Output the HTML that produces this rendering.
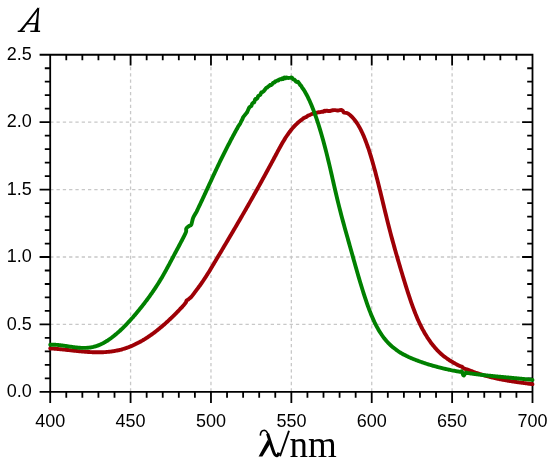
<!DOCTYPE html>
<html><head><meta charset="utf-8"><style>
html,body{margin:0;padding:0;background:#fff;width:550px;height:462px;overflow:hidden}
svg{display:block}
svg{will-change:transform}
.t{font-family:"Liberation Sans",sans-serif;font-size:18px;fill:#000}
.ax{font-family:"Liberation Serif",serif;font-size:36px;fill:#000}
</style></head><body>
<svg width="550" height="462" viewBox="0 0 550 462">
<rect width="550" height="462" fill="#fff"/>
<path d="M130.58,54.75V391.85 M210.97,54.75V391.85 M291.35,54.75V391.85 M371.73,54.75V391.85 M452.12,54.75V391.85" stroke="#c8c8c8" stroke-width="1.3" stroke-dasharray="3.3,3.0" stroke-dashoffset="0.5" fill="none"/>
<path d="M50.20,324.43H532.50 M50.20,257.01H532.50 M50.20,189.59H532.50 M50.20,122.17H532.50" stroke="#c8c8c8" stroke-width="1.3" stroke-dasharray="3.3,3.0" fill="none"/>
<path d="M50.20,54.75H532.50V391.85H50.20Z M50.20,391.85h-10.6 M532.50,391.85h-10.4 M50.20,378.37h-5.4 M532.50,378.37h-5.3 M50.20,364.88h-5.4 M532.50,364.88h-5.3 M50.20,351.40h-5.4 M532.50,351.40h-5.3 M50.20,337.91h-5.4 M532.50,337.91h-5.3 M50.20,324.43h-10.6 M532.50,324.43h-10.4 M50.20,310.95h-5.4 M532.50,310.95h-5.3 M50.20,297.46h-5.4 M532.50,297.46h-5.3 M50.20,283.98h-5.4 M532.50,283.98h-5.3 M50.20,270.49h-5.4 M532.50,270.49h-5.3 M50.20,257.01h-10.6 M532.50,257.01h-10.4 M50.20,243.53h-5.4 M532.50,243.53h-5.3 M50.20,230.04h-5.4 M532.50,230.04h-5.3 M50.20,216.56h-5.4 M532.50,216.56h-5.3 M50.20,203.07h-5.4 M532.50,203.07h-5.3 M50.20,189.59h-10.6 M532.50,189.59h-10.4 M50.20,176.11h-5.4 M532.50,176.11h-5.3 M50.20,162.62h-5.4 M532.50,162.62h-5.3 M50.20,149.14h-5.4 M532.50,149.14h-5.3 M50.20,135.65h-5.4 M532.50,135.65h-5.3 M50.20,122.17h-10.6 M532.50,122.17h-10.4 M50.20,108.69h-5.4 M532.50,108.69h-5.3 M50.20,95.20h-5.4 M532.50,95.20h-5.3 M50.20,81.72h-5.4 M532.50,81.72h-5.3 M50.20,68.23h-5.4 M532.50,68.23h-5.3 M50.20,54.75h-10.6 M532.50,54.75h-10.4 M50.20,391.85v11.1 M50.20,54.75v10.7 M66.28,391.85v6.0 M66.28,54.75v5.5 M82.35,391.85v6.0 M82.35,54.75v5.5 M98.43,391.85v6.0 M98.43,54.75v5.5 M114.51,391.85v6.0 M114.51,54.75v5.5 M130.58,391.85v11.1 M130.58,54.75v10.7 M146.66,391.85v6.0 M146.66,54.75v5.5 M162.74,391.85v6.0 M162.74,54.75v5.5 M178.81,391.85v6.0 M178.81,54.75v5.5 M194.89,391.85v6.0 M194.89,54.75v5.5 M210.97,391.85v11.1 M210.97,54.75v10.7 M227.04,391.85v6.0 M227.04,54.75v5.5 M243.12,391.85v6.0 M243.12,54.75v5.5 M259.20,391.85v6.0 M259.20,54.75v5.5 M275.27,391.85v6.0 M275.27,54.75v5.5 M291.35,391.85v11.1 M291.35,54.75v10.7 M307.43,391.85v6.0 M307.43,54.75v5.5 M323.50,391.85v6.0 M323.50,54.75v5.5 M339.58,391.85v6.0 M339.58,54.75v5.5 M355.66,391.85v6.0 M355.66,54.75v5.5 M371.73,391.85v11.1 M371.73,54.75v10.7 M387.81,391.85v6.0 M387.81,54.75v5.5 M403.89,391.85v6.0 M403.89,54.75v5.5 M419.96,391.85v6.0 M419.96,54.75v5.5 M436.04,391.85v6.0 M436.04,54.75v5.5 M452.12,391.85v11.1 M452.12,54.75v10.7 M468.19,391.85v6.0 M468.19,54.75v5.5 M484.27,391.85v6.0 M484.27,54.75v5.5 M500.35,391.85v6.0 M500.35,54.75v5.5 M516.42,391.85v6.0 M516.42,54.75v5.5 M532.50,391.85v11.1 M532.50,54.75v10.7" stroke="#000" stroke-width="1.8" fill="none" stroke-linecap="butt"/>
<path d="M50.20,348.46 C50.37,348.47 50.87,348.50 51.20,348.52 C51.53,348.53 51.87,348.55 52.20,348.58 C52.53,348.60 52.87,348.62 53.20,348.64 C53.53,348.66 53.87,348.69 54.20,348.71 C54.53,348.73 54.87,348.76 55.20,348.78 C55.53,348.81 55.87,348.84 56.20,348.86 C56.53,348.89 56.87,348.92 57.20,348.95 C57.53,348.97 57.87,349.00 58.20,349.03 C58.53,349.06 58.87,349.09 59.20,349.12 C59.53,349.15 59.87,349.18 60.20,349.22 C60.53,349.25 60.87,349.28 61.20,349.31 C61.53,349.34 61.87,349.38 62.20,349.41 C62.53,349.44 62.87,349.48 63.20,349.51 C63.53,349.55 63.87,349.58 64.20,349.62 C64.53,349.65 64.87,349.69 65.20,349.72 C65.53,349.76 65.87,349.79 66.20,349.83 C66.53,349.86 66.87,349.90 67.20,349.94 C67.53,349.97 67.87,350.01 68.20,350.04 C68.53,350.08 68.87,350.12 69.20,350.15 C69.53,350.19 69.87,350.23 70.20,350.26 C70.53,350.30 70.87,350.34 71.20,350.37 C71.53,350.41 71.87,350.45 72.20,350.48 C72.53,350.52 72.87,350.56 73.20,350.59 C73.53,350.63 73.87,350.67 74.20,350.70 C74.53,350.74 74.87,350.77 75.20,350.81 C75.53,350.84 75.87,350.88 76.20,350.91 C76.53,350.95 76.87,350.98 77.20,351.02 C77.53,351.05 77.87,351.09 78.20,351.12 C78.53,351.16 78.87,351.19 79.20,351.22 C79.53,351.25 79.87,351.29 80.20,351.32 C80.53,351.35 80.87,351.38 81.20,351.41 C81.53,351.44 81.87,351.48 82.20,351.51 C82.53,351.54 82.87,351.56 83.20,351.59 C83.53,351.62 83.87,351.65 84.20,351.68 C84.53,351.71 84.87,351.73 85.20,351.76 C85.53,351.78 85.87,351.81 86.20,351.83 C86.53,351.86 86.87,351.88 87.20,351.91 C87.53,351.93 87.87,351.95 88.20,351.97 C88.53,351.99 88.87,352.01 89.20,352.03 C89.53,352.05 89.87,352.07 90.20,352.09 C90.53,352.11 90.87,352.12 91.20,352.14 C91.53,352.16 91.87,352.17 92.20,352.19 C92.53,352.20 92.87,352.21 93.20,352.22 C93.53,352.23 93.87,352.25 94.20,352.25 C94.53,352.26 94.87,352.27 95.20,352.28 C95.53,352.29 95.87,352.29 96.20,352.30 C96.53,352.30 96.87,352.30 97.20,352.31 C97.53,352.31 97.87,352.31 98.20,352.31 C98.53,352.31 98.87,352.31 99.20,352.30 C99.53,352.30 99.87,352.29 100.20,352.29 C100.53,352.28 100.87,352.28 101.20,352.27 C101.53,352.26 101.87,352.25 102.20,352.23 C102.53,352.22 102.87,352.21 103.20,352.19 C103.53,352.18 103.87,352.16 104.20,352.14 C104.53,352.12 104.87,352.10 105.20,352.08 C105.53,352.06 105.87,352.04 106.20,352.01 C106.53,351.99 106.87,351.96 107.20,351.93 C107.53,351.90 107.87,351.87 108.20,351.84 C108.53,351.81 108.87,351.77 109.20,351.74 C109.53,351.70 109.87,351.66 110.20,351.63 C110.53,351.59 110.87,351.54 111.20,351.50 C111.53,351.46 111.87,351.41 112.20,351.36 C112.53,351.32 112.87,351.27 113.20,351.21 C113.53,351.16 113.87,351.11 114.20,351.05 C114.53,351.00 114.87,350.94 115.20,350.88 C115.53,350.82 115.87,350.76 116.20,350.69 C116.53,350.63 116.87,350.56 117.20,350.49 C117.53,350.42 117.87,350.35 118.20,350.28 C118.53,350.21 118.87,350.13 119.20,350.05 C119.53,349.97 119.87,349.89 120.20,349.81 C120.53,349.73 120.87,349.64 121.20,349.55 C121.53,349.47 121.87,349.38 122.20,349.28 C122.53,349.19 122.87,349.10 123.20,349.00 C123.53,348.90 123.87,348.80 124.20,348.70 C124.53,348.59 124.87,348.49 125.20,348.38 C125.53,348.27 125.87,348.16 126.20,348.05 C126.53,347.93 126.87,347.82 127.20,347.70 C127.53,347.58 127.87,347.46 128.20,347.34 C128.53,347.21 128.87,347.08 129.20,346.95 C129.53,346.83 129.87,346.69 130.20,346.56 C130.53,346.42 130.87,346.29 131.20,346.15 C131.53,346.01 131.87,345.86 132.20,345.72 C132.53,345.57 132.87,345.43 133.20,345.28 C133.53,345.13 133.87,344.97 134.20,344.82 C134.53,344.66 134.87,344.51 135.20,344.35 C135.53,344.19 135.87,344.02 136.20,343.86 C136.53,343.69 136.87,343.52 137.20,343.35 C137.53,343.18 137.87,343.01 138.20,342.84 C138.53,342.66 138.87,342.48 139.20,342.30 C139.53,342.12 139.87,341.94 140.20,341.75 C140.53,341.57 140.87,341.38 141.20,341.19 C141.53,341.00 141.87,340.81 142.20,340.62 C142.53,340.42 142.87,340.22 143.20,340.02 C143.53,339.82 143.87,339.62 144.20,339.42 C144.53,339.21 144.87,339.01 145.20,338.80 C145.53,338.59 145.87,338.38 146.20,338.16 C146.53,337.95 146.87,337.73 147.20,337.52 C147.53,337.30 147.87,337.08 148.20,336.85 C148.53,336.63 148.87,336.41 149.20,336.18 C149.53,335.95 149.87,335.72 150.20,335.49 C150.53,335.26 150.87,335.02 151.20,334.79 C151.53,334.55 151.87,334.31 152.20,334.07 C152.53,333.83 152.87,333.58 153.20,333.34 C153.53,333.09 153.87,332.85 154.20,332.60 C154.53,332.35 154.87,332.09 155.20,331.84 C155.53,331.58 155.87,331.33 156.20,331.07 C156.53,330.81 156.87,330.55 157.20,330.29 C157.53,330.02 157.87,329.76 158.20,329.49 C158.53,329.22 158.87,328.95 159.20,328.68 C159.53,328.41 159.87,328.14 160.20,327.86 C160.53,327.59 160.87,327.31 161.20,327.03 C161.53,326.75 161.87,326.47 162.20,326.18 C162.53,325.90 162.87,325.61 163.20,325.33 C163.53,325.04 163.87,324.75 164.20,324.45 C164.53,324.16 164.87,323.87 165.20,323.57 C165.53,323.28 165.87,322.98 166.20,322.68 C166.53,322.38 166.87,322.07 167.20,321.77 C167.53,321.47 167.87,321.16 168.20,320.85 C168.53,320.54 168.87,320.23 169.20,319.92 C169.53,319.61 169.87,319.30 170.20,318.98 C170.53,318.66 170.87,318.35 171.20,318.03 C171.53,317.71 171.87,317.39 172.20,317.06 C172.53,316.74 172.87,316.41 173.20,316.09 C173.53,315.76 173.87,315.43 174.20,315.10 C174.53,314.77 174.87,314.44 175.20,314.10 C175.53,313.77 175.87,313.43 176.20,313.09 C176.53,312.75 176.87,312.41 177.20,312.07 C177.53,311.73 177.87,311.39 178.20,311.04 C178.53,310.69 178.87,310.35 179.20,310.00 C179.53,309.65 179.87,309.30 180.20,308.95 C180.53,308.59 180.87,308.24 181.20,307.88 C181.53,307.53 181.87,307.17 182.20,306.81 C182.53,306.45 182.87,306.09 183.20,305.73 C183.53,305.36 183.73,305.22 184.20,304.63 C184.67,304.04 185.60,302.87 186.00,302.20 C186.40,301.53 186.17,301.10 186.60,300.60 C187.03,300.10 187.82,299.82 188.60,299.20 C189.38,298.58 190.42,297.83 191.30,296.90 C192.18,295.97 192.92,294.90 193.90,293.60 C194.88,292.30 196.48,290.08 197.20,289.11 C197.92,288.14 197.87,288.23 198.20,287.79 C198.53,287.34 198.87,286.89 199.20,286.43 C199.53,285.98 199.87,285.52 200.20,285.05 C200.53,284.59 200.87,284.12 201.20,283.65 C201.53,283.18 201.87,282.70 202.20,282.22 C202.53,281.74 202.87,281.25 203.20,280.76 C203.53,280.27 203.87,279.77 204.20,279.27 C204.53,278.77 204.87,278.26 205.20,277.75 C205.53,277.24 205.87,276.72 206.20,276.20 C206.53,275.68 206.87,275.15 207.20,274.62 C207.53,274.09 207.87,273.55 208.20,273.02 C208.53,272.48 208.87,271.94 209.20,271.39 C209.53,270.85 209.87,270.30 210.20,269.75 C210.53,269.20 210.87,268.65 211.20,268.10 C211.53,267.54 211.87,266.99 212.20,266.43 C212.53,265.87 212.87,265.32 213.20,264.76 C213.53,264.20 213.87,263.64 214.20,263.08 C214.53,262.51 214.87,261.95 215.20,261.39 C215.53,260.83 215.87,260.27 216.20,259.71 C216.53,259.15 216.87,258.59 217.20,258.03 C217.53,257.47 217.87,256.91 218.20,256.35 C218.53,255.78 218.87,255.22 219.20,254.66 C219.53,254.10 219.87,253.54 220.20,252.98 C220.53,252.42 220.87,251.86 221.20,251.30 C221.53,250.74 221.87,250.18 222.20,249.61 C222.53,249.05 222.87,248.49 223.20,247.93 C223.53,247.37 223.87,246.81 224.20,246.25 C224.53,245.68 224.87,245.12 225.20,244.56 C225.53,244.00 225.87,243.44 226.20,242.87 C226.53,242.31 226.87,241.75 227.20,241.19 C227.53,240.62 227.87,240.06 228.20,239.50 C228.53,238.93 228.87,238.37 229.20,237.81 C229.53,237.24 229.87,236.68 230.20,236.11 C230.53,235.55 230.87,234.98 231.20,234.42 C231.53,233.85 231.87,233.29 232.20,232.72 C232.53,232.16 232.87,231.59 233.20,231.02 C233.53,230.46 233.87,229.89 234.20,229.32 C234.53,228.75 234.87,228.19 235.20,227.62 C235.53,227.05 235.87,226.48 236.20,225.91 C236.53,225.34 236.87,224.77 237.20,224.20 C237.53,223.63 237.87,223.06 238.20,222.49 C238.53,221.92 238.87,221.35 239.20,220.77 C239.53,220.20 239.87,219.63 240.20,219.06 C240.53,218.48 240.87,217.91 241.20,217.33 C241.53,216.76 241.87,216.18 242.20,215.61 C242.53,215.03 242.87,214.45 243.20,213.88 C243.53,213.30 243.87,212.72 244.20,212.14 C244.53,211.57 244.87,210.99 245.20,210.41 C245.53,209.83 245.87,209.25 246.20,208.67 C246.53,208.08 246.87,207.50 247.20,206.92 C247.53,206.34 247.87,205.75 248.20,205.17 C248.53,204.58 248.87,204.00 249.20,203.41 C249.53,202.83 249.87,202.24 250.20,201.65 C250.53,201.07 250.87,200.48 251.20,199.89 C251.53,199.30 251.87,198.71 252.20,198.12 C252.53,197.53 252.87,196.93 253.20,196.34 C253.53,195.75 253.87,195.16 254.20,194.56 C254.53,193.97 254.87,193.37 255.20,192.77 C255.53,192.18 255.87,191.58 256.20,190.98 C256.53,190.38 256.87,189.78 257.20,189.18 C257.53,188.58 257.87,187.98 258.20,187.38 C258.53,186.78 258.87,186.18 259.20,185.57 C259.53,184.97 259.87,184.37 260.20,183.76 C260.53,183.16 260.87,182.55 261.20,181.95 C261.53,181.34 261.87,180.73 262.20,180.12 C262.53,179.52 262.87,178.91 263.20,178.30 C263.53,177.69 263.87,177.08 264.20,176.47 C264.53,175.86 264.87,175.25 265.20,174.63 C265.53,174.02 265.87,173.41 266.20,172.80 C266.53,172.18 266.87,171.57 267.20,170.95 C267.53,170.34 267.87,169.72 268.20,169.11 C268.53,168.49 268.87,167.88 269.20,167.26 C269.53,166.64 269.87,166.03 270.20,165.41 C270.53,164.79 270.87,164.17 271.20,163.55 C271.53,162.93 271.87,162.32 272.20,161.70 C272.53,161.08 272.87,160.46 273.20,159.84 C273.53,159.21 273.87,158.59 274.20,157.97 C274.53,157.35 274.87,156.73 275.20,156.11 C275.53,155.48 275.87,154.86 276.20,154.24 C276.53,153.62 276.87,153.00 277.20,152.38 C277.53,151.76 277.87,151.14 278.20,150.52 C278.53,149.91 278.87,149.29 279.20,148.68 C279.53,148.07 279.87,147.47 280.20,146.86 C280.53,146.26 280.87,145.67 281.20,145.07 C281.53,144.48 281.87,143.90 282.20,143.32 C282.53,142.74 282.87,142.16 283.20,141.60 C283.53,141.03 283.87,140.48 284.20,139.93 C284.53,139.38 284.87,138.84 285.20,138.31 C285.53,137.78 285.87,137.25 286.20,136.74 C286.53,136.23 286.87,135.73 287.20,135.24 C287.53,134.75 287.87,134.27 288.20,133.80 C288.53,133.33 288.87,132.87 289.20,132.42 C289.53,131.97 289.87,131.53 290.20,131.10 C290.53,130.67 290.87,130.25 291.20,129.84 C291.53,129.43 291.87,129.03 292.20,128.63 C292.53,128.24 292.87,127.85 293.20,127.48 C293.53,127.10 293.87,126.74 294.20,126.38 C294.53,126.02 294.87,125.67 295.20,125.33 C295.53,124.99 295.87,124.66 296.20,124.34 C296.53,124.01 296.87,123.70 297.20,123.39 C297.53,123.08 297.87,122.78 298.20,122.49 C298.53,122.19 298.87,121.91 299.20,121.63 C299.53,121.36 299.87,121.10 300.20,120.83 C300.53,120.57 300.87,120.29 301.20,120.05 C301.53,119.82 301.87,119.69 302.20,119.43 C302.53,119.17 302.87,118.75 303.20,118.49 C303.53,118.24 303.87,118.09 304.20,117.90 C304.53,117.72 304.87,117.52 305.20,117.38 C305.53,117.23 305.87,117.21 306.20,117.03 C306.53,116.85 306.87,116.54 307.20,116.29 C307.53,116.04 307.87,115.69 308.20,115.51 C308.53,115.33 308.87,115.33 309.20,115.21 C309.53,115.08 309.87,114.90 310.20,114.76 C310.53,114.61 310.87,114.48 311.20,114.33 C311.53,114.18 311.87,113.95 312.20,113.84 C312.53,113.73 312.87,113.76 313.20,113.69 C313.53,113.61 313.87,113.44 314.20,113.38 C314.53,113.32 314.87,113.39 315.20,113.34 C315.53,113.29 315.87,113.20 316.20,113.07 C316.53,112.95 316.87,112.72 317.20,112.59 C317.53,112.46 317.87,112.34 318.20,112.30 C318.53,112.25 318.87,112.34 319.20,112.32 C319.53,112.31 319.87,112.28 320.20,112.20 C320.53,112.12 320.87,111.91 321.20,111.83 C321.53,111.76 321.87,111.77 322.20,111.75 C322.53,111.73 322.87,111.85 323.20,111.69 C323.53,111.53 323.87,110.87 324.20,110.81 C324.53,110.75 324.87,111.34 325.20,111.32 C325.53,111.31 325.87,110.80 326.20,110.70 C326.53,110.60 326.90,110.66 327.20,110.72 C327.50,110.78 327.53,111.00 328.00,111.04 C328.47,111.08 329.23,111.11 330.00,110.97 C330.77,110.84 331.73,110.36 332.60,110.22 C333.47,110.08 334.27,110.08 335.20,110.13 C336.13,110.17 337.18,110.51 338.20,110.48 C339.22,110.46 340.52,109.92 341.30,109.99 C342.08,110.06 342.48,110.48 342.90,110.90 C343.32,111.32 343.08,112.14 343.80,112.50 C344.52,112.86 346.47,112.84 347.20,113.04 C347.93,113.24 347.87,113.46 348.20,113.69 C348.53,113.92 348.87,114.16 349.20,114.42 C349.53,114.68 349.87,114.94 350.20,115.23 C350.53,115.51 350.87,115.81 351.20,116.13 C351.53,116.44 351.87,116.77 352.20,117.11 C352.53,117.46 352.87,117.82 353.20,118.19 C353.53,118.57 353.87,118.96 354.20,119.37 C354.53,119.78 354.87,120.20 355.20,120.65 C355.53,121.09 355.87,121.55 356.20,122.03 C356.53,122.51 356.87,123.00 357.20,123.52 C357.53,124.03 357.87,124.56 358.20,125.12 C358.53,125.67 358.87,126.24 359.20,126.83 C359.53,127.43 359.87,128.04 360.20,128.67 C360.53,129.30 360.87,129.95 361.20,130.63 C361.53,131.30 361.87,132.00 362.20,132.71 C362.53,133.43 362.87,134.17 363.20,134.93 C363.53,135.69 363.87,136.47 364.20,137.27 C364.53,138.07 364.87,138.90 365.20,139.75 C365.53,140.59 365.87,141.46 366.20,142.36 C366.53,143.25 366.87,144.16 367.20,145.10 C367.53,146.04 367.87,147.00 368.20,147.98 C368.53,148.97 368.87,149.97 369.20,151.00 C369.53,152.03 369.87,153.08 370.20,154.15 C370.53,155.22 370.87,156.31 371.20,157.42 C371.53,158.53 371.87,159.66 372.20,160.80 C372.53,161.95 372.87,163.12 373.20,164.30 C373.53,165.48 373.87,166.68 374.20,167.90 C374.53,169.12 374.87,170.35 375.20,171.60 C375.53,172.85 375.87,174.11 376.20,175.39 C376.53,176.66 376.87,177.95 377.20,179.26 C377.53,180.56 377.87,181.88 378.20,183.21 C378.53,184.54 378.87,185.88 379.20,187.23 C379.53,188.58 379.87,189.94 380.20,191.30 C380.53,192.66 380.87,194.04 381.20,195.41 C381.53,196.79 381.87,198.17 382.20,199.55 C382.53,200.93 382.87,202.32 383.20,203.70 C383.53,205.08 383.87,206.47 384.20,207.85 C384.53,209.23 384.87,210.60 385.20,211.97 C385.53,213.35 385.87,214.71 386.20,216.07 C386.53,217.43 386.87,218.78 387.20,220.12 C387.53,221.46 387.87,222.80 388.20,224.12 C388.53,225.43 388.87,226.74 389.20,228.03 C389.53,229.33 389.87,230.61 390.20,231.88 C390.53,233.15 390.87,234.41 391.20,235.66 C391.53,236.91 391.87,238.14 392.20,239.37 C392.53,240.60 392.87,241.82 393.20,243.03 C393.53,244.23 393.87,245.43 394.20,246.63 C394.53,247.82 394.87,249.00 395.20,250.18 C395.53,251.35 395.87,252.52 396.20,253.68 C396.53,254.84 396.87,256.00 397.20,257.15 C397.53,258.30 397.87,259.44 398.20,260.58 C398.53,261.71 398.87,262.85 399.20,263.98 C399.53,265.10 399.87,266.23 400.20,267.35 C400.53,268.47 400.87,269.59 401.20,270.70 C401.53,271.82 401.87,272.93 402.20,274.04 C402.53,275.14 402.87,276.25 403.20,277.35 C403.53,278.45 403.87,279.54 404.20,280.63 C404.53,281.72 404.87,282.81 405.20,283.88 C405.53,284.96 405.87,286.03 406.20,287.10 C406.53,288.16 406.87,289.21 407.20,290.26 C407.53,291.30 407.87,292.34 408.20,293.37 C408.53,294.40 408.87,295.41 409.20,296.42 C409.53,297.43 409.87,298.42 410.20,299.40 C410.53,300.39 410.87,301.36 411.20,302.32 C411.53,303.28 411.87,304.22 412.20,305.15 C412.53,306.08 412.87,307.00 413.20,307.90 C413.53,308.80 413.87,309.69 414.20,310.56 C414.53,311.43 414.87,312.28 415.20,313.12 C415.53,313.96 415.87,314.78 416.20,315.59 C416.53,316.39 416.87,317.18 417.20,317.96 C417.53,318.74 417.87,319.50 418.20,320.24 C418.53,320.99 418.87,321.72 419.20,322.44 C419.53,323.15 419.87,323.86 420.20,324.54 C420.53,325.23 420.87,325.91 421.20,326.57 C421.53,327.23 421.87,327.88 422.20,328.52 C422.53,329.16 422.87,329.78 423.20,330.39 C423.53,331.00 423.87,331.60 424.20,332.19 C424.53,332.78 424.87,333.36 425.20,333.92 C425.53,334.49 425.87,335.04 426.20,335.58 C426.53,336.13 426.87,336.66 427.20,337.18 C427.53,337.70 427.87,338.21 428.20,338.72 C428.53,339.22 428.87,339.71 429.20,340.19 C429.53,340.68 429.87,341.15 430.20,341.61 C430.53,342.08 430.87,342.53 431.20,342.98 C431.53,343.43 431.87,343.86 432.20,344.29 C432.53,344.72 432.87,345.14 433.20,345.55 C433.53,345.96 433.87,346.37 434.20,346.76 C434.53,347.16 434.87,347.54 435.20,347.92 C435.53,348.30 435.87,348.67 436.20,349.04 C436.53,349.40 436.87,349.76 437.20,350.11 C437.53,350.46 437.87,350.80 438.20,351.13 C438.53,351.47 438.87,351.80 439.20,352.12 C439.53,352.44 439.87,352.75 440.20,353.06 C440.53,353.37 440.87,353.67 441.20,353.97 C441.53,354.27 441.87,354.55 442.20,354.84 C442.53,355.12 442.87,355.40 443.20,355.67 C443.53,355.95 443.87,356.21 444.20,356.48 C444.53,356.74 444.87,357.00 445.20,357.25 C445.53,357.50 445.87,357.75 446.20,357.99 C446.53,358.23 446.87,358.47 447.20,358.70 C447.53,358.93 447.87,359.16 448.20,359.39 C448.53,359.61 448.87,359.83 449.20,360.05 C449.53,360.27 449.87,360.48 450.20,360.69 C450.53,360.90 450.87,361.10 451.20,361.31 C451.53,361.51 451.87,361.71 452.20,361.91 C452.53,362.10 452.87,362.29 453.20,362.49 C453.53,362.68 453.87,362.86 454.20,363.05 C454.53,363.24 454.87,363.42 455.20,363.60 C455.53,363.78 455.87,363.96 456.20,364.14 C456.53,364.31 456.87,364.49 457.20,364.66 C457.53,364.84 457.87,365.01 458.20,365.18 C458.53,365.35 458.87,365.52 459.20,365.68 C459.53,365.85 459.73,366.01 460.20,366.18 C460.67,366.35 461.48,366.40 462.00,366.70 C462.52,367.00 462.82,367.63 463.30,368.00 C463.78,368.37 464.08,368.60 464.90,368.90 C465.72,369.20 467.48,369.57 468.20,369.79 C468.92,370.01 468.87,370.07 469.20,370.20 C469.53,370.34 469.87,370.47 470.20,370.60 C470.53,370.73 470.87,370.86 471.20,370.99 C471.53,371.12 471.87,371.25 472.20,371.38 C472.53,371.50 472.87,371.63 473.20,371.75 C473.53,371.88 473.87,372.00 474.20,372.12 C474.53,372.24 474.87,372.36 475.20,372.48 C475.53,372.60 475.87,372.72 476.20,372.83 C476.53,372.95 476.87,373.06 477.20,373.17 C477.53,373.29 477.87,373.40 478.20,373.51 C478.53,373.62 478.87,373.73 479.20,373.84 C479.53,373.95 479.87,374.05 480.20,374.16 C480.53,374.27 480.87,374.37 481.20,374.47 C481.53,374.58 481.87,374.68 482.20,374.78 C482.53,374.88 482.87,374.98 483.20,375.08 C483.53,375.18 483.87,375.28 484.20,375.37 C484.53,375.47 484.87,375.56 485.20,375.66 C485.53,375.75 485.87,375.85 486.20,375.94 C486.53,376.03 486.87,376.12 487.20,376.21 C487.53,376.30 487.87,376.39 488.20,376.48 C488.53,376.57 488.87,376.65 489.20,376.74 C489.53,376.82 489.87,376.91 490.20,376.99 C490.53,377.08 490.87,377.16 491.20,377.24 C491.53,377.32 491.87,377.40 492.20,377.48 C492.53,377.56 492.87,377.64 493.20,377.72 C493.53,377.80 493.87,377.88 494.20,377.95 C494.53,378.03 494.87,378.11 495.20,378.18 C495.53,378.25 495.87,378.33 496.20,378.40 C496.53,378.47 496.87,378.55 497.20,378.62 C497.53,378.69 497.87,378.76 498.20,378.83 C498.53,378.90 498.87,378.97 499.20,379.04 C499.53,379.10 499.87,379.17 500.20,379.24 C500.53,379.30 500.87,379.37 501.20,379.44 C501.53,379.50 501.87,379.57 502.20,379.63 C502.53,379.69 502.87,379.76 503.20,379.82 C503.53,379.88 503.87,379.94 504.20,380.00 C504.53,380.06 504.87,380.12 505.20,380.18 C505.53,380.24 505.87,380.30 506.20,380.36 C506.53,380.42 506.87,380.48 507.20,380.54 C507.53,380.59 507.87,380.65 508.20,380.71 C508.53,380.76 508.87,380.82 509.20,380.87 C509.53,380.93 509.87,380.98 510.20,381.04 C510.53,381.09 510.87,381.14 511.20,381.20 C511.53,381.25 511.87,381.30 512.20,381.35 C512.53,381.41 512.87,381.46 513.20,381.51 C513.53,381.56 513.87,381.61 514.20,381.66 C514.53,381.71 514.87,381.76 515.20,381.81 C515.53,381.86 515.87,381.91 516.20,381.96 C516.53,382.01 516.87,382.05 517.20,382.10 C517.53,382.15 517.87,382.20 518.20,382.24 C518.53,382.29 518.87,382.34 519.20,382.38 C519.53,382.43 519.87,382.48 520.20,382.52 C520.53,382.57 520.87,382.61 521.20,382.66 C521.53,382.71 521.87,382.75 522.20,382.80 C522.53,382.84 522.87,382.89 523.20,382.93 C523.53,382.97 523.87,383.02 524.20,383.06 C524.53,383.11 524.87,383.15 525.20,383.19 C525.53,383.24 525.87,383.28 526.20,383.32 C526.53,383.37 526.87,383.41 527.20,383.45 C527.53,383.50 527.87,383.54 528.20,383.58 C528.53,383.63 528.87,383.67 529.20,383.71 C529.53,383.75 529.87,383.80 530.20,383.84 C530.53,383.88 530.87,383.92 531.20,383.97 C531.53,384.01 531.98,384.07 532.20,384.09 C532.42,384.12 532.45,384.13 532.50,384.13" stroke="#9e0006" stroke-width="3.9" fill="none" stroke-linejoin="round" stroke-linecap="round"/>
<path d="M50.20,344.71 C50.37,344.71 50.87,344.69 51.20,344.69 C51.53,344.68 51.87,344.68 52.20,344.68 C52.53,344.68 52.87,344.68 53.20,344.69 C53.53,344.70 53.87,344.71 54.20,344.72 C54.53,344.73 54.87,344.75 55.20,344.77 C55.53,344.79 55.87,344.81 56.20,344.83 C56.53,344.85 56.87,344.88 57.20,344.91 C57.53,344.93 57.87,344.96 58.20,345.00 C58.53,345.03 58.87,345.06 59.20,345.10 C59.53,345.13 59.87,345.17 60.20,345.21 C60.53,345.25 60.87,345.29 61.20,345.33 C61.53,345.37 61.87,345.41 62.20,345.46 C62.53,345.50 62.87,345.55 63.20,345.59 C63.53,345.64 63.87,345.69 64.20,345.73 C64.53,345.78 64.87,345.83 65.20,345.88 C65.53,345.93 65.87,345.98 66.20,346.03 C66.53,346.08 66.87,346.13 67.20,346.18 C67.53,346.23 67.87,346.28 68.20,346.33 C68.53,346.38 68.87,346.43 69.20,346.49 C69.53,346.54 69.87,346.59 70.20,346.64 C70.53,346.69 70.87,346.74 71.20,346.78 C71.53,346.83 71.87,346.88 72.20,346.93 C72.53,346.98 72.87,347.02 73.20,347.07 C73.53,347.11 73.87,347.16 74.20,347.20 C74.53,347.24 74.87,347.29 75.20,347.33 C75.53,347.37 75.87,347.41 76.20,347.44 C76.53,347.48 76.87,347.52 77.20,347.55 C77.53,347.58 77.87,347.62 78.20,347.65 C78.53,347.68 78.87,347.70 79.20,347.73 C79.53,347.76 79.87,347.78 80.20,347.80 C80.53,347.82 80.87,347.84 81.20,347.86 C81.53,347.87 81.87,347.89 82.20,347.90 C82.53,347.91 82.87,347.91 83.20,347.92 C83.53,347.92 83.87,347.93 84.20,347.92 C84.53,347.92 84.87,347.92 85.20,347.91 C85.53,347.90 85.87,347.89 86.20,347.87 C86.53,347.86 86.87,347.84 87.20,347.82 C87.53,347.79 87.87,347.77 88.20,347.74 C88.53,347.70 88.87,347.67 89.20,347.63 C89.53,347.59 89.87,347.55 90.20,347.50 C90.53,347.45 90.87,347.40 91.20,347.34 C91.53,347.29 91.87,347.23 92.20,347.16 C92.53,347.09 92.87,347.02 93.20,346.95 C93.53,346.87 93.87,346.79 94.20,346.70 C94.53,346.62 94.87,346.53 95.20,346.43 C95.53,346.33 95.87,346.23 96.20,346.12 C96.53,346.01 96.87,345.90 97.20,345.78 C97.53,345.66 97.87,345.54 98.20,345.41 C98.53,345.28 98.87,345.15 99.20,345.01 C99.53,344.87 99.87,344.73 100.20,344.58 C100.53,344.43 100.87,344.28 101.20,344.12 C101.53,343.96 101.87,343.80 102.20,343.63 C102.53,343.46 102.87,343.29 103.20,343.11 C103.53,342.94 103.87,342.75 104.20,342.57 C104.53,342.38 104.87,342.19 105.20,341.99 C105.53,341.80 105.87,341.60 106.20,341.39 C106.53,341.19 106.87,340.98 107.20,340.77 C107.53,340.55 107.87,340.34 108.20,340.11 C108.53,339.89 108.87,339.67 109.20,339.44 C109.53,339.21 109.87,338.97 110.20,338.73 C110.53,338.49 110.87,338.25 111.20,338.01 C111.53,337.76 111.87,337.51 112.20,337.25 C112.53,337.00 112.87,336.74 113.20,336.48 C113.53,336.22 113.87,335.95 114.20,335.68 C114.53,335.41 114.87,335.14 115.20,334.87 C115.53,334.59 115.87,334.31 116.20,334.02 C116.53,333.74 116.87,333.45 117.20,333.16 C117.53,332.87 117.87,332.58 118.20,332.28 C118.53,331.98 118.87,331.68 119.20,331.38 C119.53,331.08 119.87,330.77 120.20,330.46 C120.53,330.15 120.87,329.83 121.20,329.52 C121.53,329.20 121.87,328.88 122.20,328.56 C122.53,328.24 122.87,327.91 123.20,327.58 C123.53,327.25 123.87,326.92 124.20,326.59 C124.53,326.25 124.87,325.92 125.20,325.58 C125.53,325.24 125.87,324.89 126.20,324.55 C126.53,324.20 126.87,323.86 127.20,323.51 C127.53,323.16 127.87,322.80 128.20,322.45 C128.53,322.09 128.87,321.74 129.20,321.38 C129.53,321.01 129.87,320.65 130.20,320.29 C130.53,319.92 130.87,319.55 131.20,319.18 C131.53,318.81 131.87,318.44 132.20,318.06 C132.53,317.69 132.87,317.31 133.20,316.93 C133.53,316.55 133.87,316.17 134.20,315.78 C134.53,315.39 134.87,315.01 135.20,314.62 C135.53,314.22 135.87,313.83 136.20,313.44 C136.53,313.04 136.87,312.64 137.20,312.24 C137.53,311.84 137.87,311.44 138.20,311.03 C138.53,310.63 138.87,310.22 139.20,309.81 C139.53,309.40 139.87,308.99 140.20,308.57 C140.53,308.15 140.87,307.74 141.20,307.32 C141.53,306.90 141.87,306.47 142.20,306.05 C142.53,305.62 142.87,305.20 143.20,304.77 C143.53,304.34 143.87,303.90 144.20,303.47 C144.53,303.04 144.87,302.60 145.20,302.16 C145.53,301.72 145.87,301.28 146.20,300.83 C146.53,300.39 146.87,299.94 147.20,299.49 C147.53,299.04 147.87,298.59 148.20,298.14 C148.53,297.68 148.87,297.23 149.20,296.77 C149.53,296.31 149.87,295.84 150.20,295.38 C150.53,294.91 150.87,294.44 151.20,293.97 C151.53,293.50 151.87,293.02 152.20,292.54 C152.53,292.06 152.87,291.58 153.20,291.09 C153.53,290.61 153.87,290.12 154.20,289.62 C154.53,289.13 154.87,288.63 155.20,288.13 C155.53,287.62 155.87,287.12 156.20,286.61 C156.53,286.10 156.87,285.58 157.20,285.06 C157.53,284.54 157.87,284.02 158.20,283.49 C158.53,282.96 158.87,282.42 159.20,281.89 C159.53,281.35 159.87,280.80 160.20,280.25 C160.53,279.70 160.87,279.15 161.20,278.59 C161.53,278.03 161.87,277.47 162.20,276.90 C162.53,276.33 162.87,275.75 163.20,275.17 C163.53,274.59 163.87,274.00 164.20,273.41 C164.53,272.82 164.87,272.23 165.20,271.63 C165.53,271.03 165.87,270.43 166.20,269.83 C166.53,269.22 166.87,268.61 167.20,268.00 C167.53,267.39 167.87,266.78 168.20,266.16 C168.53,265.54 168.87,264.92 169.20,264.30 C169.53,263.68 169.87,263.06 170.20,262.43 C170.53,261.81 170.87,261.18 171.20,260.55 C171.53,259.93 171.87,259.30 172.20,258.67 C172.53,258.04 172.87,257.41 173.20,256.78 C173.53,256.15 173.87,255.52 174.20,254.90 C174.53,254.27 174.87,253.64 175.20,253.01 C175.53,252.38 175.87,251.75 176.20,251.13 C176.53,250.50 176.87,249.87 177.20,249.24 C177.53,248.62 177.87,247.99 178.20,247.36 C178.53,246.74 178.87,246.11 179.20,245.48 C179.53,244.85 179.87,244.22 180.20,243.60 C180.53,242.97 180.87,242.34 181.20,241.71 C181.53,241.08 181.87,240.45 182.20,239.82 C182.53,239.19 182.57,239.23 183.20,237.92 C183.83,236.62 185.48,233.57 186.00,232.00 C186.52,230.43 185.82,229.48 186.30,228.50 C186.78,227.52 188.10,226.68 188.90,226.10 C189.70,225.52 190.55,225.82 191.10,225.00 C191.65,224.18 191.83,222.45 192.20,221.20 C192.57,219.95 192.63,218.96 193.30,217.50 C193.97,216.04 195.55,213.61 196.20,212.42 C196.85,211.23 196.87,211.05 197.20,210.36 C197.53,209.67 197.87,208.98 198.20,208.28 C198.53,207.59 198.87,206.89 199.20,206.19 C199.53,205.49 199.87,204.78 200.20,204.08 C200.53,203.37 200.87,202.66 201.20,201.95 C201.53,201.24 201.87,200.53 202.20,199.81 C202.53,199.10 202.87,198.38 203.20,197.67 C203.53,196.95 203.87,196.23 204.20,195.51 C204.53,194.79 204.87,194.07 205.20,193.35 C205.53,192.62 205.87,191.90 206.20,191.18 C206.53,190.45 206.87,189.73 207.20,189.01 C207.53,188.28 207.87,187.56 208.20,186.83 C208.53,186.11 208.87,185.38 209.20,184.66 C209.53,183.93 209.87,183.21 210.20,182.49 C210.53,181.76 210.87,181.04 211.20,180.32 C211.53,179.60 211.87,178.87 212.20,178.15 C212.53,177.43 212.87,176.71 213.20,176.00 C213.53,175.28 213.87,174.56 214.20,173.85 C214.53,173.13 214.87,172.42 215.20,171.71 C215.53,171.00 215.87,170.29 216.20,169.58 C216.53,168.87 216.87,168.17 217.20,167.46 C217.53,166.76 217.87,166.06 218.20,165.36 C218.53,164.67 218.87,163.97 219.20,163.28 C219.53,162.59 219.87,161.90 220.20,161.21 C220.53,160.53 220.87,159.84 221.20,159.16 C221.53,158.48 221.87,157.80 222.20,157.12 C222.53,156.45 222.87,155.77 223.20,155.10 C223.53,154.43 223.87,153.76 224.20,153.09 C224.53,152.43 224.87,151.76 225.20,151.10 C225.53,150.44 225.87,149.78 226.20,149.12 C226.53,148.47 226.87,147.81 227.20,147.16 C227.53,146.51 227.87,145.86 228.20,145.21 C228.53,144.57 228.87,143.92 229.20,143.28 C229.53,142.64 229.87,142.00 230.20,141.36 C230.53,140.72 230.87,140.09 231.20,139.46 C231.53,138.83 231.87,138.20 232.20,137.57 C232.53,136.94 232.87,136.31 233.20,135.69 C233.53,135.07 233.87,134.45 234.20,133.83 C234.53,133.21 234.87,132.60 235.20,131.98 C235.53,131.37 235.87,130.72 236.20,130.13 C236.53,129.54 236.87,129.04 237.20,128.44 C237.53,127.84 237.87,127.08 238.20,126.51 C238.53,125.93 238.87,125.47 239.20,124.99 C239.53,124.51 239.87,124.23 240.20,123.63 C240.53,123.02 240.87,122.03 241.20,121.35 C241.53,120.68 241.87,120.29 242.20,119.59 C242.53,118.89 242.87,117.77 243.20,117.14 C243.53,116.52 243.87,116.26 244.20,115.84 C244.53,115.42 244.87,115.05 245.20,114.63 C245.53,114.22 245.87,113.80 246.20,113.36 C246.53,112.93 246.87,112.63 247.20,112.02 C247.53,111.41 247.87,110.45 248.20,109.72 C248.53,109.00 248.87,108.18 249.20,107.66 C249.53,107.13 249.87,106.82 250.20,106.59 C250.53,106.36 250.87,106.77 251.20,106.27 C251.53,105.78 251.87,104.22 252.20,103.63 C252.53,103.03 252.87,102.93 253.20,102.70 C253.53,102.47 253.87,102.80 254.20,102.24 C254.53,101.67 254.87,99.84 255.20,99.32 C255.53,98.80 255.87,99.24 256.20,99.11 C256.53,98.98 256.87,99.03 257.20,98.53 C257.53,98.02 257.87,96.56 258.20,96.05 C258.53,95.55 258.87,95.66 259.20,95.49 C259.53,95.32 259.87,95.52 260.20,95.03 C260.53,94.54 260.87,93.03 261.20,92.57 C261.53,92.10 261.87,92.39 262.20,92.23 C262.53,92.08 262.87,91.93 263.20,91.64 C263.53,91.36 263.87,90.93 264.20,90.53 C264.53,90.13 264.87,89.69 265.20,89.24 C265.53,88.80 265.87,88.16 266.20,87.87 C266.53,87.59 266.87,87.76 267.20,87.53 C267.53,87.30 267.87,86.76 268.20,86.49 C268.53,86.21 268.87,86.14 269.20,85.88 C269.53,85.62 269.87,85.06 270.20,84.92 C270.53,84.78 270.87,85.16 271.20,85.05 C271.53,84.93 271.87,84.61 272.20,84.23 C272.53,83.84 272.87,83.02 273.20,82.75 C273.53,82.47 273.87,82.80 274.20,82.59 C274.53,82.37 274.87,81.69 275.20,81.46 C275.53,81.23 275.87,81.37 276.20,81.21 C276.53,81.05 276.87,80.61 277.20,80.50 C277.53,80.39 277.87,80.70 278.20,80.55 C278.53,80.39 278.87,79.77 279.20,79.56 C279.53,79.35 279.87,79.32 280.20,79.29 C280.53,79.26 280.87,79.51 281.20,79.37 C281.53,79.24 281.87,78.53 282.20,78.48 C282.53,78.43 282.87,79.23 283.20,79.07 C283.53,78.91 283.87,77.64 284.20,77.52 C284.53,77.40 284.87,78.33 285.20,78.35 C285.53,78.37 285.87,77.78 286.20,77.65 C286.53,77.53 286.87,77.55 287.20,77.60 C287.53,77.66 287.87,77.94 288.20,77.99 C288.53,78.04 288.87,77.90 289.20,77.88 C289.53,77.85 289.87,77.94 290.20,77.85 C290.53,77.76 290.87,77.35 291.20,77.35 C291.53,77.35 291.87,77.51 292.20,77.85 C292.53,78.19 292.87,79.10 293.20,79.38 C293.53,79.67 293.87,79.38 294.20,79.57 C294.53,79.75 294.87,80.14 295.20,80.49 C295.53,80.85 295.87,81.43 296.20,81.68 C296.53,81.93 296.87,81.99 297.20,82.02 C297.53,82.04 297.87,81.62 298.20,81.84 C298.53,82.07 298.87,82.88 299.20,83.39 C299.53,83.90 299.87,84.51 300.20,84.92 C300.53,85.33 300.87,85.39 301.20,85.85 C301.53,86.31 301.87,87.16 302.20,87.69 C302.53,88.21 302.87,88.55 303.20,89.01 C303.53,89.48 303.87,89.96 304.20,90.48 C304.53,91.01 304.87,91.59 305.20,92.17 C305.53,92.75 305.87,93.34 306.20,93.96 C306.53,94.57 306.87,95.21 307.20,95.86 C307.53,96.51 307.87,97.17 308.20,97.86 C308.53,98.55 308.87,99.25 309.20,99.97 C309.53,100.69 309.87,101.43 310.20,102.19 C310.53,102.94 310.87,103.72 311.20,104.51 C311.53,105.30 311.87,106.11 312.20,106.93 C312.53,107.76 312.87,108.60 313.20,109.47 C313.53,110.33 313.87,111.21 314.20,112.10 C314.53,113.00 314.87,113.91 315.20,114.84 C315.53,115.78 315.87,116.72 316.20,117.69 C316.53,118.66 316.87,119.64 317.20,120.64 C317.53,121.64 317.87,122.66 318.20,123.70 C318.53,124.73 318.87,125.79 319.20,126.86 C319.53,127.93 319.87,129.01 320.20,130.12 C320.53,131.23 320.87,132.35 321.20,133.49 C321.53,134.63 321.87,135.78 322.20,136.96 C322.53,138.13 322.87,139.32 323.20,140.53 C323.53,141.74 323.87,142.97 324.20,144.21 C324.53,145.45 324.87,146.71 325.20,147.99 C325.53,149.27 325.87,150.56 326.20,151.88 C326.53,153.19 326.87,154.52 327.20,155.86 C327.53,157.21 327.87,158.57 328.20,159.95 C328.53,161.33 328.87,162.73 329.20,164.14 C329.53,165.55 329.87,166.98 330.20,168.42 C330.53,169.85 330.87,171.30 331.20,172.75 C331.53,174.20 331.87,175.66 332.20,177.12 C332.53,178.58 332.87,180.05 333.20,181.51 C333.53,182.97 333.87,184.43 334.20,185.89 C334.53,187.34 334.87,188.80 335.20,190.24 C335.53,191.68 335.87,193.11 336.20,194.53 C336.53,195.95 336.87,197.35 337.20,198.74 C337.53,200.13 337.87,201.50 338.20,202.86 C338.53,204.21 338.87,205.55 339.20,206.87 C339.53,208.20 339.87,209.50 340.20,210.80 C340.53,212.09 340.87,213.37 341.20,214.64 C341.53,215.91 341.87,217.16 342.20,218.41 C342.53,219.66 342.87,220.89 343.20,222.12 C343.53,223.35 343.87,224.57 344.20,225.78 C344.53,226.99 344.87,228.20 345.20,229.40 C345.53,230.60 345.87,231.79 346.20,232.98 C346.53,234.18 346.87,235.36 347.20,236.55 C347.53,237.73 347.87,238.92 348.20,240.10 C348.53,241.28 348.87,242.47 349.20,243.65 C349.53,244.84 349.87,246.02 350.20,247.21 C350.53,248.40 350.87,249.58 351.20,250.77 C351.53,251.96 351.87,253.15 352.20,254.34 C352.53,255.53 352.87,256.71 353.20,257.90 C353.53,259.08 353.87,260.27 354.20,261.45 C354.53,262.63 354.87,263.81 355.20,264.98 C355.53,266.16 355.87,267.33 356.20,268.50 C356.53,269.66 356.87,270.82 357.20,271.98 C357.53,273.14 357.87,274.29 358.20,275.43 C358.53,276.58 358.87,277.71 359.20,278.84 C359.53,279.97 359.87,281.10 360.20,282.21 C360.53,283.33 360.87,284.43 361.20,285.53 C361.53,286.63 361.87,287.71 362.20,288.79 C362.53,289.87 362.87,290.93 363.20,291.99 C363.53,293.04 363.87,294.09 364.20,295.12 C364.53,296.15 364.87,297.17 365.20,298.18 C365.53,299.18 365.87,300.18 366.20,301.15 C366.53,302.13 366.87,303.10 367.20,304.05 C367.53,305.00 367.87,305.93 368.20,306.85 C368.53,307.77 368.87,308.67 369.20,309.56 C369.53,310.44 369.87,311.31 370.20,312.16 C370.53,313.01 370.87,313.84 371.20,314.65 C371.53,315.47 371.87,316.26 372.20,317.04 C372.53,317.82 372.87,318.57 373.20,319.31 C373.53,320.06 373.87,320.78 374.20,321.49 C374.53,322.19 374.87,322.88 375.20,323.56 C375.53,324.23 375.87,324.89 376.20,325.53 C376.53,326.17 376.87,326.79 377.20,327.41 C377.53,328.02 377.87,328.61 378.20,329.19 C378.53,329.77 378.87,330.34 379.20,330.89 C379.53,331.44 379.87,331.98 380.20,332.51 C380.53,333.03 380.87,333.54 381.20,334.04 C381.53,334.54 381.87,335.03 382.20,335.50 C382.53,335.97 382.87,336.44 383.20,336.89 C383.53,337.34 383.87,337.77 384.20,338.20 C384.53,338.63 384.87,339.04 385.20,339.45 C385.53,339.86 385.87,340.25 386.20,340.64 C386.53,341.02 386.87,341.40 387.20,341.76 C387.53,342.13 387.87,342.49 388.20,342.84 C388.53,343.18 388.87,343.52 389.20,343.86 C389.53,344.19 389.87,344.51 390.20,344.83 C390.53,345.14 390.87,345.45 391.20,345.75 C391.53,346.05 391.87,346.35 392.20,346.64 C392.53,346.92 392.87,347.21 393.20,347.48 C393.53,347.76 393.87,348.03 394.20,348.29 C394.53,348.56 394.87,348.82 395.20,349.07 C395.53,349.33 395.87,349.58 396.20,349.82 C396.53,350.06 396.87,350.30 397.20,350.54 C397.53,350.77 397.87,351.00 398.20,351.23 C398.53,351.45 398.87,351.67 399.20,351.89 C399.53,352.10 399.87,352.32 400.20,352.52 C400.53,352.73 400.87,352.93 401.20,353.13 C401.53,353.33 401.87,353.53 402.20,353.72 C402.53,353.91 402.87,354.10 403.20,354.28 C403.53,354.47 403.87,354.65 404.20,354.83 C404.53,355.00 404.87,355.18 405.20,355.35 C405.53,355.52 405.87,355.69 406.20,355.85 C406.53,356.02 406.87,356.18 407.20,356.34 C407.53,356.50 407.87,356.66 408.20,356.81 C408.53,356.96 408.87,357.12 409.20,357.26 C409.53,357.41 409.87,357.56 410.20,357.71 C410.53,357.85 410.87,357.99 411.20,358.14 C411.53,358.28 411.87,358.42 412.20,358.55 C412.53,358.69 412.87,358.83 413.20,358.96 C413.53,359.10 413.87,359.23 414.20,359.36 C414.53,359.49 414.87,359.62 415.20,359.75 C415.53,359.88 415.87,360.01 416.20,360.14 C416.53,360.26 416.87,360.39 417.20,360.51 C417.53,360.64 417.87,360.76 418.20,360.89 C418.53,361.01 418.87,361.13 419.20,361.25 C419.53,361.38 419.87,361.50 420.20,361.61 C420.53,361.73 420.87,361.85 421.20,361.97 C421.53,362.09 421.87,362.20 422.20,362.32 C422.53,362.43 422.87,362.55 423.20,362.66 C423.53,362.77 423.87,362.89 424.20,363.00 C424.53,363.11 424.87,363.22 425.20,363.33 C425.53,363.44 425.87,363.55 426.20,363.66 C426.53,363.76 426.87,363.87 427.20,363.98 C427.53,364.08 427.87,364.19 428.20,364.29 C428.53,364.40 428.87,364.50 429.20,364.60 C429.53,364.70 429.87,364.80 430.20,364.90 C430.53,365.01 430.87,365.10 431.20,365.20 C431.53,365.30 431.87,365.40 432.20,365.50 C432.53,365.59 432.87,365.69 433.20,365.79 C433.53,365.88 433.87,365.98 434.20,366.07 C434.53,366.16 434.87,366.26 435.20,366.35 C435.53,366.44 435.87,366.53 436.20,366.62 C436.53,366.71 436.87,366.80 437.20,366.89 C437.53,366.98 437.87,367.07 438.20,367.15 C438.53,367.24 438.87,367.33 439.20,367.41 C439.53,367.50 439.87,367.58 440.20,367.66 C440.53,367.75 440.87,367.83 441.20,367.91 C441.53,368.00 441.87,368.08 442.20,368.16 C442.53,368.24 442.87,368.32 443.20,368.40 C443.53,368.48 443.87,368.56 444.20,368.63 C444.53,368.71 444.87,368.79 445.20,368.87 C445.53,368.94 445.87,369.02 446.20,369.09 C446.53,369.17 446.87,369.24 447.20,369.32 C447.53,369.39 447.87,369.46 448.20,369.53 C448.53,369.61 448.87,369.68 449.20,369.75 C449.53,369.82 449.87,369.89 450.20,369.96 C450.53,370.03 450.87,370.10 451.20,370.17 C451.53,370.23 451.87,370.30 452.20,370.37 C452.53,370.43 452.87,370.50 453.20,370.57 C453.53,370.63 453.87,370.70 454.20,370.76 C454.53,370.82 454.87,370.89 455.20,370.95 C455.53,371.01 455.87,371.08 456.20,371.14 C456.53,371.20 456.87,371.26 457.20,371.32 C457.53,371.38 457.87,371.44 458.20,371.50 C458.53,371.56 458.87,371.62 459.20,371.68 C459.53,371.74 459.77,371.91 460.20,371.85 C460.63,371.79 461.33,370.86 461.80,371.30 C462.27,371.74 462.63,373.82 463.00,374.50 C463.37,375.18 463.57,375.70 464.00,375.40 C464.43,375.10 465.07,373.10 465.60,372.70 C466.13,372.30 466.77,372.90 467.20,372.97 C467.63,373.04 467.87,373.07 468.20,373.12 C468.53,373.17 468.87,373.22 469.20,373.27 C469.53,373.32 469.87,373.36 470.20,373.41 C470.53,373.46 470.87,373.50 471.20,373.55 C471.53,373.60 471.87,373.64 472.20,373.69 C472.53,373.73 472.87,373.78 473.20,373.82 C473.53,373.87 473.87,373.91 474.20,373.96 C474.53,374.00 474.87,374.04 475.20,374.09 C475.53,374.13 475.87,374.17 476.20,374.21 C476.53,374.26 476.87,374.30 477.20,374.34 C477.53,374.38 477.87,374.42 478.20,374.46 C478.53,374.50 478.87,374.55 479.20,374.59 C479.53,374.63 479.87,374.67 480.20,374.71 C480.53,374.74 480.87,374.78 481.20,374.82 C481.53,374.86 481.87,374.90 482.20,374.94 C482.53,374.98 482.87,375.01 483.20,375.05 C483.53,375.09 483.87,375.13 484.20,375.16 C484.53,375.20 484.87,375.24 485.20,375.28 C485.53,375.31 485.87,375.35 486.20,375.38 C486.53,375.42 486.87,375.46 487.20,375.49 C487.53,375.53 487.87,375.56 488.20,375.60 C488.53,375.63 488.87,375.67 489.20,375.70 C489.53,375.74 489.87,375.77 490.20,375.81 C490.53,375.84 490.87,375.87 491.20,375.91 C491.53,375.94 491.87,375.98 492.20,376.01 C492.53,376.04 492.87,376.08 493.20,376.11 C493.53,376.14 493.87,376.17 494.20,376.21 C494.53,376.24 494.87,376.27 495.20,376.31 C495.53,376.34 495.87,376.37 496.20,376.40 C496.53,376.43 496.87,376.47 497.20,376.50 C497.53,376.53 497.87,376.56 498.20,376.59 C498.53,376.63 498.87,376.66 499.20,376.69 C499.53,376.72 499.87,376.75 500.20,376.78 C500.53,376.81 500.87,376.84 501.20,376.88 C501.53,376.91 501.87,376.94 502.20,376.97 C502.53,377.00 502.87,377.03 503.20,377.06 C503.53,377.09 503.87,377.12 504.20,377.15 C504.53,377.18 504.87,377.22 505.20,377.25 C505.53,377.28 505.87,377.31 506.20,377.34 C506.53,377.37 506.87,377.40 507.20,377.43 C507.53,377.46 507.87,377.49 508.20,377.52 C508.53,377.55 508.87,377.58 509.20,377.61 C509.53,377.64 509.87,377.67 510.20,377.70 C510.53,377.74 510.87,377.77 511.20,377.80 C511.53,377.83 511.87,377.86 512.20,377.89 C512.53,377.92 512.87,377.95 513.20,377.98 C513.53,378.01 513.87,378.04 514.20,378.07 C514.53,378.11 514.87,378.14 515.20,378.17 C515.53,378.20 515.87,378.23 516.20,378.26 C516.53,378.29 516.87,378.32 517.20,378.36 C517.53,378.39 517.87,378.42 518.20,378.45 C518.53,378.48 518.87,378.51 519.20,378.55 C519.53,378.58 519.87,378.61 520.20,378.64 C520.53,378.68 520.87,378.71 521.20,378.74 C521.53,378.77 521.87,378.81 522.20,378.84 C522.53,378.87 522.87,378.90 523.20,378.94 C523.53,378.97 523.87,379.00 524.20,379.04 C524.53,379.07 524.87,379.11 525.20,379.14 C525.53,379.17 525.87,379.21 526.20,379.24 C526.53,379.28 526.87,379.31 527.20,379.35 C527.53,379.38 527.87,379.42 528.20,379.45 C528.53,379.49 528.87,379.52 529.20,379.56 C529.53,379.59 529.87,379.63 530.20,379.67 C530.53,379.70 530.87,379.74 531.20,379.78 C531.53,379.81 531.98,379.86 532.20,379.89 C532.42,379.91 532.45,379.92 532.50,379.92" stroke="#008000" stroke-width="3.9" fill="none" stroke-linejoin="round" stroke-linecap="round"/>
<text x="31.8" y="397.1" text-anchor="end" class="t">0.0</text>
<text x="31.8" y="329.6" text-anchor="end" class="t">0.5</text>
<text x="31.8" y="262.2" text-anchor="end" class="t">1.0</text>
<text x="31.8" y="194.8" text-anchor="end" class="t">1.5</text>
<text x="31.8" y="127.4" text-anchor="end" class="t">2.0</text>
<text x="31.8" y="60.0" text-anchor="end" class="t">2.5</text>
<text x="50.2" y="427.3" text-anchor="middle" class="t">400</text>
<text x="130.6" y="427.3" text-anchor="middle" class="t">450</text>
<text x="211.0" y="427.3" text-anchor="middle" class="t">500</text>
<text x="291.4" y="427.3" text-anchor="middle" class="t">550</text>
<text x="371.7" y="427.3" text-anchor="middle" class="t">600</text>
<text x="452.1" y="427.3" text-anchor="middle" class="t">650</text>
<text x="532.5" y="427.3" text-anchor="middle" class="t">700</text>
<g fill="#000" stroke="none"><path d="M19.0,31.2 Q28,20.5 37.7,7.5 L39.1,8.7 Q29.5,21.5 21.9,31.2 Z"/><path d="M37.5,8.9 L39.3,7.3 L38.4,20 L38.1,31.2 L34.3,31.2 L36.1,20 Z"/><rect x="27.0" y="23.0" width="9.8" height="1.5"/><rect x="17.7" y="30.6" width="7.2" height="1.4"/><rect x="30.3" y="30.6" width="9.8" height="1.4"/></g>
<g fill="none" stroke="#000" stroke-linecap="butt"><path d="M260.3,435.6 C260.5,431.6 262.4,430.2 264.3,430.2 C266.2,430.3 267.4,432.2 268.3,435.2" stroke-width="1.6"/><path d="M267.6,433.8 C269.5,439.5 271.3,445.5 273.2,450.8 C274.3,454.2 275.6,455.8 276.8,455.7 C277.8,455.6 278.4,454.3 278.8,452.6" stroke-width="3.0"/><path d="M280.0,456.3 L289.0,430.7" stroke-width="1.9"/></g><path d="M258.6,456.5 L262.4,456.5 L270.0,444.0 L267.9,439.6 Z" fill="#000"/>
<text x="289.6" y="456.7" class="ax" style="font-size:37px">nm</text>
</svg>
</body></html>
